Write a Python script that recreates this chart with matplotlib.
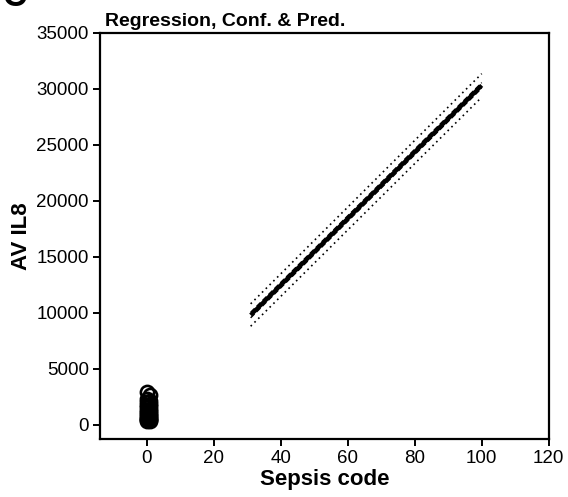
#!/usr/bin/env python3
"""Regression of AV IL8 against sepsis code with confidence and prediction bands."""

import matplotlib

matplotlib.use("Agg")
import matplotlib.pyplot as plt
import numpy as np

# observed points (sepsis code, AV IL8)
obs_x = [0, 1, 0, 1, 0, 1, 0, 1, 0, 1, 0, 1, 0, 1, 0, 1, 0, 1, 0, 1, 0, 1, 0, 1, 0, 1]
obs_y = [2950, 2650, 2300, 2150, 2000, 1850, 1750, 1650, 1550, 1450, 1350, 1250, 1150,
         1050, 950, 900, 800, 750, 650, 600, 550, 500, 450, 400, 350, 300]

# fitted line and bands, read at the ends of the fitted range
fit_x = [31, 100]
fit_y = [9800, 30300]
conf_half = [250, 250]
pred_half = [1000, 1050]

XTICKS = [0, 20, 40, 60, 80, 100, 120]
YTICKS = [0, 5000, 10000, 15000, 20000, 25000, 30000, 35000]


def main() -> int:
    plt.rcParams.update(
        {
            "font.family": ["Liberation Sans", "DejaVu Sans"],
            "font.size": 13.5,
            "axes.linewidth": 1.6,
        }
    )
    fig = plt.figure(figsize=(5.68, 4.97), dpi=100)
    ax = fig.add_axes([0.176, 0.116, 0.790, 0.818])

    ax.plot(obs_x, obs_y, "o", mfc="none", mec="black", mew=1.9, ms=9.5, ls="none")

    fx = np.array(fit_x, float)
    fy = np.array(fit_y, float)
    ch = np.array(conf_half, float)
    ph = np.array(pred_half, float)
    ax.plot(fx, fy, color="black", lw=3.0, solid_capstyle="butt")
    ax.plot(fx, fy + ch, color="black", lw=1.0, ls=(0, (4, 2)))
    ax.plot(fx, fy - ch, color="black", lw=1.0, ls=(0, (4, 2)))
    ax.plot(fx, fy + ph, color="black", lw=1.2, ls=(0, (1, 2.2)))
    ax.plot(fx, fy - ph, color="black", lw=1.2, ls=(0, (1, 2.2)))

    ax.set_xlim(-14, 120)
    ax.set_ylim(-1300, 35000)
    ax.set_xticks(XTICKS)
    ax.set_yticks(YTICKS)
    ax.tick_params(direction="out", length=5, width=1.4, pad=3)
    ax.set_xlabel("Sepsis code", fontsize=16, fontweight="bold", labelpad=1)
    ax.set_ylabel("AV IL8", fontsize=16, fontweight="bold", labelpad=3)
    ax.text(0.012, 1.008, "Regression, Conf. & Pred.", transform=ax.transAxes,
            fontsize=14, fontweight="bold", ha="left", va="bottom")

    fig.text(0.005, 0.988, "C", fontsize=24, fontweight="bold", ha="left", va="baseline")

    fig.savefig("out.png", dpi=100)
    plt.close(fig)
    return 0


if __name__ == "__main__":
    raise SystemExit(main())
